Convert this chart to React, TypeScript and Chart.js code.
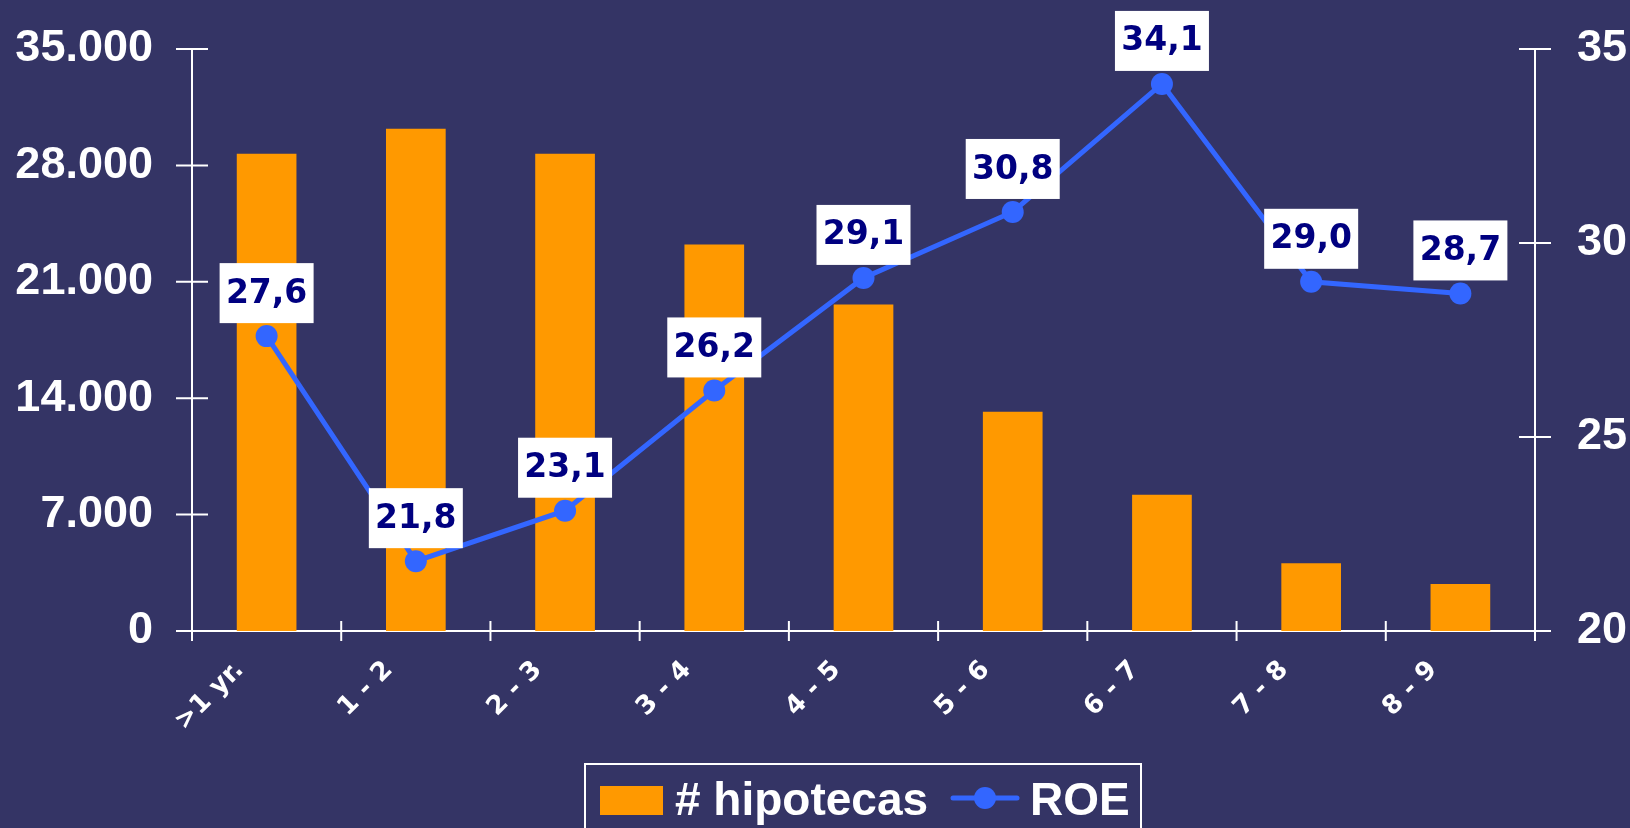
import React, { useEffect, useRef } from "react";
import { Chart, registerables } from "chart.js";

Chart.register(...registerables);

const categories = [">1 yr.", "1 - 2", "2 - 3", "3 - 4", "4 - 5", "5 - 6", "6 - 7", "7 - 8", "8 - 9"];
const hipotecas = [28700, 30200, 28700, 23250, 19630, 13190, 8190, 4070, 2820];
const roe = [27.6, 21.8, 23.1, 26.2, 29.1, 30.8, 34.1, 29.0, 28.7];
const leftTicks = [0, 7000, 14000, 21000, 28000, 35000];
const rightTicks = [20, 25, 30, 35];
const legendLabels = ["# hipotecas", "ROE"];

const BG = "#343465";
const ORANGE = "#FF9900";
const BLUE = "#3366FF";
const NAVY = "#000080";
const WHITE = "#FFFFFF";

const fmtThousands = (v: number) => String(v).replace(/\B(?=(\d{3})+(?!\d))/g, ".");
const fmtDec = (v: number) => v.toFixed(1).replace(".", ",");

const bgPlugin = {
  id: "bg",
  beforeDraw(chart: any) {
    const { ctx, width, height } = chart;
    ctx.save();
    ctx.fillStyle = BG;
    ctx.fillRect(0, 0, width, height);
    ctx.restore();
  },
};

const axesPlugin = {
  id: "axesLines",
  beforeDatasetsDraw(chart: any) {
    const { ctx, chartArea } = chart;
    const x = chart.scales.x;
    const y = chart.scales.y;
    const y1 = chart.scales.y1;
    ctx.save();
    ctx.strokeStyle = WHITE;
    ctx.lineWidth = 2;
    ctx.beginPath();
    ctx.moveTo(chartArea.left, chartArea.top);
    ctx.lineTo(chartArea.left, chartArea.bottom + 10);
    leftTicks.forEach((t) => {
      const py = y.getPixelForValue(t);
      ctx.moveTo(chartArea.left - 16, py);
      ctx.lineTo(chartArea.left + 16, py);
    });
    ctx.moveTo(chartArea.right, chartArea.top);
    ctx.lineTo(chartArea.right, chartArea.bottom + 10);
    rightTicks.forEach((t) => {
      const py = y1.getPixelForValue(t);
      ctx.moveTo(chartArea.right - 16, py);
      ctx.lineTo(chartArea.right + 16, py);
    });
    ctx.moveTo(chartArea.left - 16, chartArea.bottom);
    ctx.lineTo(chartArea.right + 16, chartArea.bottom);
    const n = categories.length;
    const step = n > 1 ? x.getPixelForValue(1) - x.getPixelForValue(0) : 0;
    for (let i = 0; i <= n; i++) {
      const px = x.getPixelForValue(0) - step / 2 + i * step;
      ctx.moveTo(px, chartArea.bottom - 10);
      ctx.lineTo(px, chartArea.bottom + 10);
    }
    ctx.stroke();
    ctx.restore();
  },
};

const labelsPlugin = {
  id: "roeLabels",
  afterDatasetsDraw(chart: any) {
    const { ctx } = chart;
    const meta = chart.getDatasetMeta(1);
    ctx.save();
    meta.data.forEach((pt: any, i: number) => {
      const w = 94;
      const h = 60;
      const bx = pt.x - w / 2;
      const by = pt.y - 13 - h;
      ctx.fillStyle = WHITE;
      ctx.fillRect(bx, by, w, h);
      ctx.fillStyle = NAVY;
      ctx.font = 'bold 33px "DejaVu Sans"';
      ctx.textAlign = "center";
      ctx.textBaseline = "middle";
      ctx.fillText(fmtDec(roe[i]), pt.x, by + h / 2 + 1);
    });
    ctx.restore();
  },
};

const legendPlugin = {
  id: "customLegend",
  afterDraw(chart: any) {
    const { ctx } = chart;
    ctx.save();
    ctx.strokeStyle = WHITE;
    ctx.lineWidth = 2;
    ctx.strokeRect(585, 764, 556, 100);
    ctx.fillStyle = ORANGE;
    ctx.fillRect(600, 786, 63, 29);
    ctx.fillStyle = WHITE;
    ctx.font = 'bold 46px "Liberation Sans", Arial';
    ctx.textAlign = "left";
    ctx.textBaseline = "alphabetic";
    ctx.fillText(legendLabels[0], 675, 815);
    ctx.strokeStyle = BLUE;
    ctx.lineWidth = 5;
    ctx.lineCap = "round";
    ctx.beginPath();
    ctx.moveTo(953, 798);
    ctx.lineTo(1017, 798);
    ctx.stroke();
    ctx.fillStyle = BLUE;
    ctx.beginPath();
    ctx.arc(985, 798, 11, 0, Math.PI * 2);
    ctx.fill();
    ctx.fillStyle = WHITE;
    ctx.fillText(legendLabels[1], 1030, 815);
    ctx.restore();
  },
};

export default function App() {
  const ref = useRef<HTMLCanvasElement | null>(null);

  useEffect(() => {
    document.body.style.margin = "0";
    document.body.style.background = BG;
    if (!ref.current) return;
    const chart = new Chart(ref.current, {
      type: "bar",
      data: {
        labels: categories,
        datasets: [
          {
            type: "bar",
            label: legendLabels[0],
            data: hipotecas,
            backgroundColor: ORANGE,
            borderWidth: 0,
            barPercentage: 0.4,
            categoryPercentage: 1,
            yAxisID: "y",
            order: 2,
          },
          {
            type: "line",
            label: legendLabels[1],
            data: roe,
            borderColor: BLUE,
            backgroundColor: BLUE,
            borderWidth: 5,
            pointRadius: 11,
            pointBorderWidth: 0,
            pointBackgroundColor: BLUE,
            tension: 0,
            yAxisID: "y1",
            order: 1,
          } as any,
        ],
      },
      options: {
        responsive: false,
        animation: false,
        events: [],
        layout: { padding: { top: 49, bottom: 0, left: 0, right: 0 } },
        plugins: {
          legend: { display: false },
          tooltip: { enabled: false },
        },
        scales: {
          x: {
            offset: true,
            grid: { display: false, drawTicks: false },
            border: { display: false },
            ticks: {
              color: WHITE,
              autoSkip: false,
              minRotation: 45,
              maxRotation: 45,
              padding: 24,
              labelOffset: -27,
              font: { family: '"DejaVu Sans"', size: 26, weight: "bold" },
            },
            afterFit(scale: any) {
              scale.height = 197;
            },
          },
          y: {
            position: "left",
            min: 0,
            max: 35000,
            grid: { display: false, drawTicks: true, tickLength: 39 },
            border: { display: false },
            ticks: {
              stepSize: 7000,
              color: WHITE,
              padding: 0,
              font: { family: '"Liberation Sans", Arial', size: 45, weight: "bold" },
              callback: (v: any) => fmtThousands(Number(v)),
            },
            afterFit(scale: any) {
              scale.width = 192;
            },
          },
          y1: {
            position: "right",
            min: 20,
            max: 35,
            grid: { display: false, drawTicks: true, tickLength: 42 },
            border: { display: false },
            ticks: {
              stepSize: 5,
              color: WHITE,
              padding: 0,
              font: { family: '"Liberation Sans", Arial', size: 45, weight: "bold" },
            },
            afterFit(scale: any) {
              scale.width = 95;
            },
          },
        },
      },
      plugins: [bgPlugin, axesPlugin, labelsPlugin, legendPlugin],
    });
    return () => chart.destroy();
  }, []);

  return (
    <div style={{ width: 1630, height: 828, overflow: "hidden" }}>
      <canvas ref={ref} width={1630} height={828} style={{ display: "block" }} />
    </div>
  );
}
